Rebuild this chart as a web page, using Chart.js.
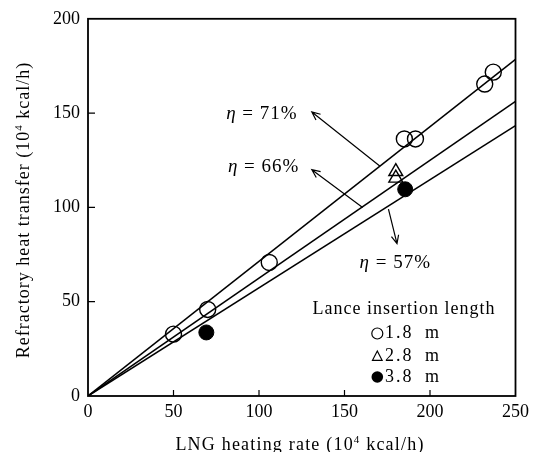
<!DOCTYPE html>
<html>
<head>
<meta charset="utf-8">
<script src="https://cdn.jsdelivr.net/npm/chart.js@4"></script>
<style>
  body { margin: 0; background: #fff; }
  canvas { display: block; }
</style>
</head>
<body>
<canvas id="heatChart" width="534" height="452"></canvas>
<script>
// measured points (10^4 kcal/h)
const circleX = [50, 70, 106, 185, 191.5, 232, 237];
const circleY = [32.8, 45.9, 70.8, 136.3, 136.3, 165.4, 171.7];
const triangleX = [180, 180];
const triangleY = [119, 115.5];
const dotX = [69.2, 185.5];
const dotY = [33.7, 109.6];

// efficiency lines through the origin
const lineX = [0, 250];
const lineEndY = [178.5, 156.2, 143.3];

// eta labels and their arrows, in data units
const noteText = ['71%', '66%', '57%'];
const noteX = [101.7, 102.7, 179.7];
const noteY = [149.7, 121.3, 70.3];
const arrowFromX = [170.8, 160.6, 175.7];
const arrowFromY = [121.8, 100, 99.1];
const arrowToX = [130.9, 130.9, 180.7];
const arrowToY = [150.6, 120, 80.8];

const legendTitle = 'Lance insertion length';
const legendLabels = ['1.8', '2.8', '3.8'];

const xTicks = [0, 50, 100, 150, 200, 250];
const yTicks = [0, 50, 100, 150, 200];

const SERIF = '"Liberation Serif", "Times New Roman", serif';

const pts = (xs, ys) => xs.map((x, i) => ({ x: x, y: ys[i] }));

const lineSets = lineEndY.map(y1 => ({
  data: [{ x: lineX[0], y: 0 }, { x: lineX[1], y: y1 }],
  showLine: true,
  borderColor: '#000',
  borderWidth: 1.5,
  pointRadius: 0,
  order: 2
}));

// draws a row of text pieces (font / raise) one after the other
function drawRuns(ctx, runs, x, y, align) {
  let total = 0;
  runs.forEach(r => { ctx.font = r.f; total += ctx.measureText(r.t).width; });
  let cx = align === 'center' ? x - total / 2 : x;
  runs.forEach(r => {
    ctx.font = r.f;
    ctx.fillText(r.t, cx, y + (r.dy || 0));
    cx += ctx.measureText(r.t).width;
  });
}

function arrow(ctx, x0, y0, x1, y1) {
  const a = Math.atan2(y1 - y0, x1 - x0);
  const len = 9, spread = 0.42;
  ctx.beginPath();
  ctx.moveTo(x0, y0);
  ctx.lineTo(x1, y1);
  ctx.moveTo(x1 - len * Math.cos(a - spread), y1 - len * Math.sin(a - spread));
  ctx.lineTo(x1, y1);
  ctx.lineTo(x1 - len * Math.cos(a + spread), y1 - len * Math.sin(a + spread));
  ctx.stroke();
}

const decorations = {
  id: 'decorations',
  afterDatasetsDraw(chart) {
    const { ctx, chartArea: a, scales: { x, y } } = chart;
    ctx.save();
    ctx.strokeStyle = '#000';
    ctx.lineWidth = 1.8;
    ctx.strokeRect(a.left, a.top, a.right - a.left, a.bottom - a.top);

    // inward tick marks
    ctx.lineWidth = 1.2;
    ctx.beginPath();
    xTicks.slice(1, -1).forEach(v => {
      const px = x.getPixelForValue(v);
      ctx.moveTo(px, a.bottom);
      ctx.lineTo(px, a.bottom - 6);
    });
    yTicks.slice(1, -1).forEach(v => {
      const py = y.getPixelForValue(v);
      ctx.moveTo(a.left, py);
      ctx.lineTo(a.left + 7, py);
    });
    ctx.stroke();

    // eta labels with arrows
    ctx.fillStyle = '#000';
    ctx.lineWidth = 1.2;
    ctx.textBaseline = 'middle';
    ctx.letterSpacing = '1px';
    noteText.forEach((t, i) => {
      arrow(ctx,
        x.getPixelForValue(arrowFromX[i]), y.getPixelForValue(arrowFromY[i]),
        x.getPixelForValue(arrowToX[i]), y.getPixelForValue(arrowToY[i]));
      drawRuns(ctx, [
        { t: 'η', f: 'italic 19px ' + SERIF },
        { t: ' = ', f: '19px ' + SERIF },
        { t: t, f: '19px ' + SERIF }
      ], x.getPixelForValue(noteX[i]), y.getPixelForValue(noteY[i]), 'center');
    });

    // legend
    ctx.letterSpacing = '1px';
    ctx.textAlign = 'center';
    ctx.textBaseline = 'alphabetic';
    ctx.font = '18px ' + SERIF;
    ctx.fillText(legendTitle, 404, 314);
    ctx.textAlign = 'left';
    ctx.textBaseline = 'middle';
    ctx.letterSpacing = '2px';
    const rowY = [333.5, 356.5, 377];
    const mx = 377.3;
    ctx.lineWidth = 1.2;
    legendLabels.forEach((lab, i) => {
      const ry = rowY[i];
      ctx.beginPath();
      if (i === 0) {
        ctx.arc(mx, ry, 5.5, 0, Math.PI * 2);
        ctx.stroke();
      } else if (i === 1) {
        ctx.moveTo(mx, ry - 5.5);
        ctx.lineTo(mx + 4.8, ry + 3.8);
        ctx.lineTo(mx - 4.8, ry + 3.8);
        ctx.closePath();
        ctx.stroke();
      } else {
        ctx.arc(mx, ry, 5.8, 0, Math.PI * 2);
        ctx.fill();
      }
      ctx.font = '18px ' + SERIF;
      ctx.fillText(lab, 385, ry);
      ctx.fillText('m', 425, ry);
    });

    // axis titles
    ctx.textAlign = 'left';
    ctx.textBaseline = 'alphabetic';
    ctx.letterSpacing = '1.2px';
    drawRuns(ctx, [
      { t: 'LNG heating rate (10', f: '18px ' + SERIF },
      { t: '4', f: '11px ' + SERIF, dy: -7 },
      { t: ' kcal/h)', f: '18px ' + SERIF }
    ], 300, 450, 'center');

    ctx.translate(29, 210);
    ctx.rotate(-Math.PI / 2);
    ctx.letterSpacing = '1px';
    drawRuns(ctx, [
      { t: 'Refractory heat transfer (10', f: '18px ' + SERIF },
      { t: '4', f: '11px ' + SERIF, dy: -7 },
      { t: ' kcal/h)', f: '18px ' + SERIF }
    ], 0, 0, 'center');
    ctx.restore();
  }
};

const tickFont = { family: SERIF, size: 18 };

new Chart(document.getElementById('heatChart'), {
  type: 'scatter',
  data: {
    datasets: [
      {
        data: pts(circleX, circleY),
        pointStyle: 'circle',
        pointRadius: 8,
        backgroundColor: 'rgba(255,255,255,0)',
        borderColor: '#000',
        borderWidth: 1.4,
        order: 1
      },
      {
        data: pts(triangleX, triangleY),
        pointStyle: 'triangle',
        pointRadius: 8,
        backgroundColor: 'rgba(255,255,255,0)',
        borderColor: '#000',
        borderWidth: 1.4,
        order: 1
      },
      {
        data: pts(dotX, dotY),
        pointStyle: 'circle',
        pointRadius: 7.5,
        backgroundColor: '#000',
        borderColor: '#000',
        borderWidth: 1,
        order: 1
      },
      ...lineSets
    ]
  },
  options: {
    responsive: false,
    animation: false,
    events: [],
    layout: { padding: { top: 14, right: 13, left: 0, bottom: 0 } },
    plugins: { legend: { display: false }, tooltip: { enabled: false } },
    scales: {
      x: {
        type: 'linear',
        min: 0,
        max: 250,
        afterBuildTicks: s => { s.ticks = xTicks.map(v => ({ value: v })); },
        ticks: { font: tickFont, color: '#000', padding: 5, maxRotation: 0 },
        grid: { display: false, drawTicks: false },
        border: { display: false },
        afterFit: s => { s.height = 56; }
      },
      y: {
        min: 0,
        max: 200,
        afterBuildTicks: s => { s.ticks = yTicks.map(v => ({ value: v })); },
        ticks: { font: tickFont, color: '#000', padding: 8 },
        grid: { display: false, drawTicks: false },
        border: { display: false },
        afterFit: s => { s.width = 88; }
      }
    }
  },
  plugins: [decorations]
});
</script>
</body>
</html>
